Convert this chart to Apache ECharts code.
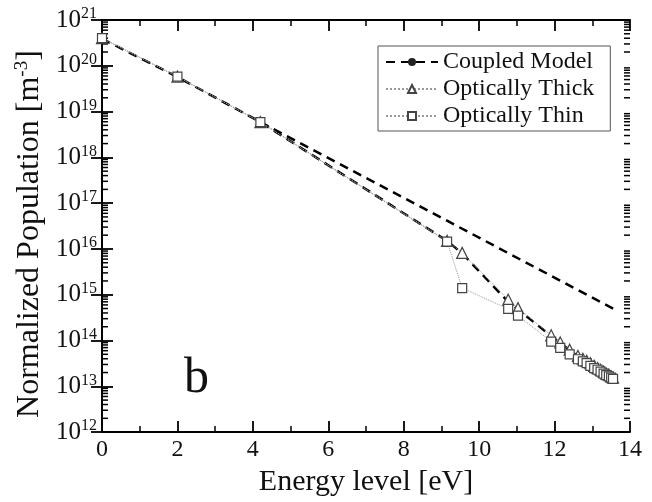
<!DOCTYPE html>
<html>
<head>
<meta charset="utf-8">
<script src="https://cdn.jsdelivr.net/npm/echarts@6/dist/echarts.min.js"></script>
<style>
html,body{margin:0;padding:0;background:#fff;}
#chart{width:652px;height:502px;}
</style>
</head>
<body>
<div id="chart"></div>
<script>
// ---- data ----
const energies = [0, 2.0, 4.2, 9.15, 9.55, 10.77, 11.03, 11.91, 12.15, 12.40, 12.62, 12.75, 12.85, 12.95, 13.05, 13.14, 13.22, 13.30, 13.37, 13.44, 13.50, 13.55];
const coupledValues = [3.9e20, 5.7e19, 5.9e18, 1.5e16, 8.0e15, 7.0e14, 4.8e14, 1.25e14, 8.8e13, 6.2e13, 4.5e13, 3.9e13, 3.5e13, 3.1e13, 2.75e13, 2.45e13, 2.25e13, 2.05e13, 1.9e13, 1.75e13, 1.62e13, 1.52e13];
const thickValues = [4.0e20, 5.8e19, 5.9e18, 1.5e16, 8.2e15, 7.8e14, 5.1e14, 1.3e14, 9.1e13, 6.3e13, 4.6e13, 4.0e13, 3.6e13, 3.2e13, 2.8e13, 2.5e13, 2.3e13, 2.1e13, 1.9e13, 1.8e13, 1.65e13, 1.55e13];
const thinValues = [4.0e20, 5.8e19, 5.9e18, 1.45e16, 1.4e15, 4.9e14, 3.5e14, 9.5e13, 6.9e13, 5.0e13, 3.9e13, 3.5e13, 3.2e13, 2.8e13, 2.5e13, 2.3e13, 2.1e13, 1.9e13, 1.75e13, 1.65e13, 1.55e13, 1.45e13];
// straight (upper) branch of the coupled model
const coupledUpperEnergies = [4.2, 13.57];
const coupledUpperValues = [5.9e18, 4.9e14];

const xTicks = [0, 2, 4, 6, 8, 10, 12, 14];
const yExponents = [12, 13, 14, 15, 16, 17, 18, 19, 20, 21];
const minorMultipliers = [2, 3, 4, 5, 6, 7, 8, 9];

const legendNames = ['Coupled Model', 'Optically Thick', 'Optically Thin'];
const panelLabel = 'b';

// ---- build ----
const FONT = '"Liberation Serif", "Times New Roman", serif';
const pairs = (xs, ys) => xs.map((x, i) => [x, ys[i]]);
const eMin = yExponents[0], eMax = yExponents[yExponents.length - 1];
const yMin = Math.pow(10, eMin);
const yMax = Math.pow(10, eMax);
const xMin = xTicks[0], xMax = xTicks[xTicks.length - 1];
// minor log tick values (2..9 x 10^k)
const minorY = [];
for (let k = eMin; k < eMax; k++) minorMultipliers.forEach(m => minorY.push(m * Math.pow(10, k)));

const chart = echarts.init(document.getElementById('chart'), null, {renderer: 'canvas'});

const axisLine = {show: true, lineStyle: {color: '#000', width: 2}};
const majorTick = {show: true, inside: true, length: 11, lineStyle: {color: '#000', width: 1.8}};

function xAxisBase(pos, labels) {
  return {
    type: 'value', position: pos, min: xMin, max: xMax, interval: 2,
    axisLine: axisLine, axisTick: majorTick,
    minorTick: {show: true, splitNumber: 2, length: 6, lineStyle: {color: '#000', width: 1.5}},
    splitLine: {show: false}, minorSplitLine: {show: false},
    axisLabel: labels ? {show: true, color: '#111', fontFamily: FONT, fontSize: 24, margin: 6} : {show: false}
  };
}
function yAxisMajor(pos, labels) {
  return {
    type: 'log', position: pos, min: yMin, max: yMax, logBase: 10, interval: 1,
    axisLine: axisLine, axisTick: majorTick, splitLine: {show: false},
    axisLabel: labels ? {
      show: true, margin: 5,
      formatter: v => '{b|10}{s|' + Math.round(Math.log10(v)) + '}',
      rich: {
        b: {fontFamily: FONT, fontSize: 25, color: '#111'},
        s: {fontFamily: FONT, fontSize: 16, color: '#111', padding: [0, 0, 12, 0]}
      }
    } : {show: false}
  };
}

const xBottom = xAxisBase('bottom', true);
xBottom.name = 'Energy level [eV]';
xBottom.nameLocation = 'middle';
xBottom.nameGap = 24;
xBottom.nameTextStyle = {fontFamily: FONT, fontSize: 30, color: '#111'};

const yLeft = yAxisMajor('left', true);
yLeft.name = '{n|Normalized Population [m}{s|-3}{n|]}';
yLeft.nameLocation = 'middle';
yLeft.nameGap = 52;
yLeft.nameTextStyle = {
  padding: [0, 16, 0, 0],
  rich: {
    n: {fontFamily: FONT, fontSize: 32, color: '#111'},
    s: {fontFamily: FONT, fontSize: 19, color: '#111', padding: [0, 0, 15, 0]}
  }
};

// minor log ticks on left and right frame edges, placed through the axis scales
function renderMinorTick(params, api) {
  const v = api.value(1);
  const p = api.coord([xMin, v]);
  const q = api.coord([xMax, v]);
  const len = 6;
  const style = {stroke: '#000', lineWidth: 1.5};
  return {
    type: 'group',
    children: [
      {type: 'line', shape: {x1: p[0], y1: p[1], x2: p[0] + len, y2: p[1]}, style: style},
      {type: 'line', shape: {x1: q[0] - len, y1: q[1], x2: q[0], y2: q[1]}, style: style}
    ]
  };
}

const option = {
  backgroundColor: '#fff',
  animation: false,
  title: {text: panelLabel, left: 179, top: 349, textStyle: {fontFamily: FONT, fontSize: 50, fontWeight: 'normal', color: '#111'}},
  grid: {left: 102, right: 22, top: 20, bottom: 57, containLabel: false},
  legend: {
    data: legendNames, orient: 'vertical', left: 378, top: 46,
    padding: [4, 16, 3, 7], itemGap: 3, itemWidth: 52, itemHeight: 10,
    borderColor: '#555', borderWidth: 1, backgroundColor: '#fff',
    textStyle: {fontFamily: FONT, fontSize: 24, color: '#111', lineHeight: 24}
  },
  xAxis: [xBottom, xAxisBase('top', false)],
  yAxis: [yLeft, yAxisMajor('right', false)],
  series: [
    {
      type: 'custom', name: 'minor ticks', silent: true, clip: false, z: 1,
      data: minorY.map(v => [xMin, v]),
      renderItem: renderMinorTick
    },
    {
      name: legendNames[0], type: 'line', data: pairs(energies, coupledValues),
      lineStyle: {color: '#000', width: 2.5, type: [9, 6]},
      symbol: 'circle', symbolSize: 5, itemStyle: {color: '#222'}, z: 2
    },
    {
      name: legendNames[0], type: 'line', data: pairs(coupledUpperEnergies, coupledUpperValues),
      lineStyle: {color: '#000', width: 2.5, type: [9, 6]},
      showSymbol: false, symbol: 'none', z: 2
    },
    {
      name: legendNames[1], type: 'line', data: pairs(energies, thickValues),
      lineStyle: {color: '#999', width: 1, type: 'dotted'},
      symbol: 'triangle', symbolSize: 11,
      itemStyle: {color: '#fff', borderColor: '#444', borderWidth: 1.2}, z: 3
    },
    {
      name: legendNames[2], type: 'line', data: pairs(energies, thinValues),
      lineStyle: {color: '#999', width: 1, type: 'dotted'},
      symbol: 'rect', symbolSize: 9,
      itemStyle: {color: '#fff', borderColor: '#444', borderWidth: 1.2}, z: 4
    }
  ]
};
chart.setOption(option);
</script>
</body>
</html>
